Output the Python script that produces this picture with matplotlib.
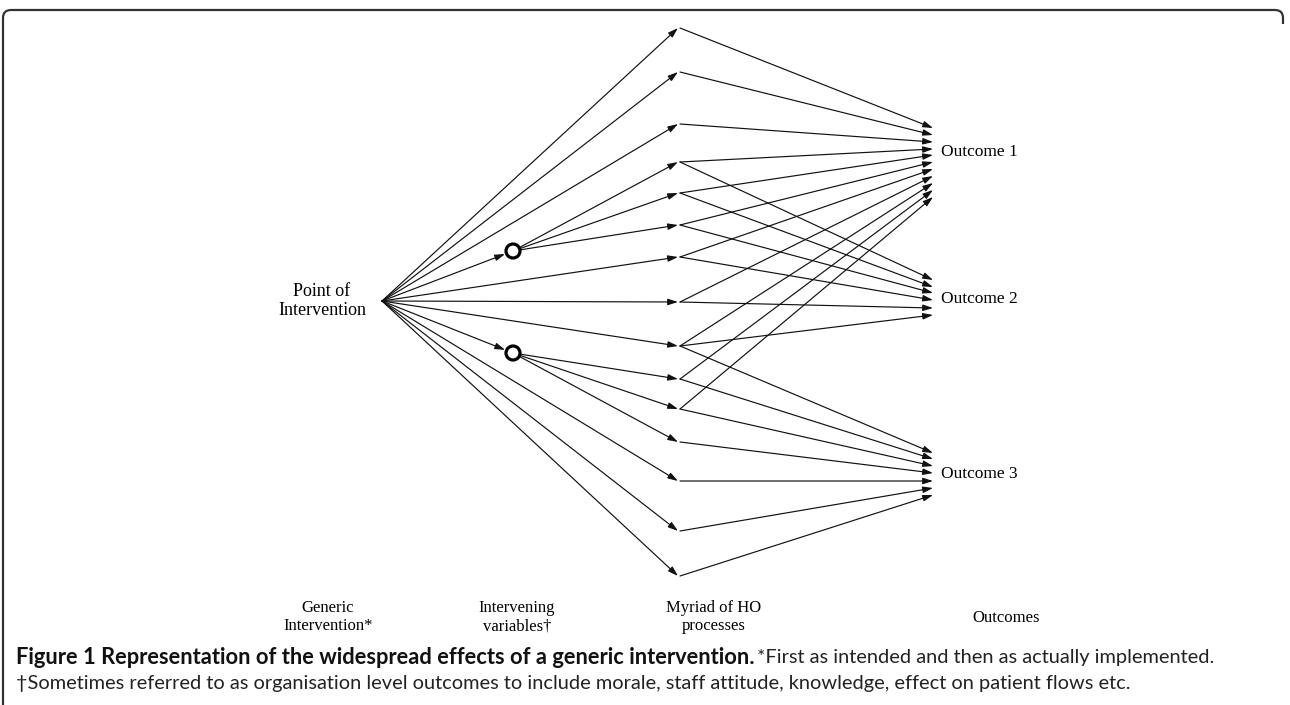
import matplotlib
matplotlib.use("Agg")
import matplotlib.pyplot as plt
from matplotlib.patches import Circle
from matplotlib.path import Path
from matplotlib.patches import PathPatch
import numpy as np

# ---------------- data (diagram layout) ----------------
source_xy = (382, 301)
node_x = 680
node_y = [28, 72, 124, 162, 193, 225, 257, 302, 346, 379, 409, 442, 481, 531, 576]
hub_xy = {"A": (513, 251), "B": (513, 353)}
# which feeder points into each middle node (S = point of intervention)
node_feeders = ["S", "S", "S", "A", "A", "A", "S", "S", "S",
                "B", "B", "B", "S", "S", "S"]
outcome_x = 933
outcome_labels = ["Outcome 1", "Outcome 2", "Outcome 3"]
outcome_label_y = [152, 299, 474]
outcome_nodes = [
    [0, 1, 2, 3, 4, 5, 6, 7, 8, 9, 10],
    [3, 4, 5, 6, 7, 8],
    [8, 9, 10, 11, 12, 13, 14],
]
outcome_tip_y = [
    [128, 135, 142, 149, 155, 162, 169, 176, 183, 190, 197],
    [280, 287, 293, 300, 308, 315],
    [453, 459, 466, 473, 481, 488, 495],
]
column_labels = ["Generic\nIntervention*", "Intervening\nvariables\u2020",
                 "Myriad of HO\nprocesses", "Outcomes"]
column_label_xy = [(328, 617), (517, 617), (714, 617), (1006, 618)]
caption_bold = "Figure 1 Representation of the widespread effects of a generic intervention."
caption_rest = "*First as intended and then as actually implemented."
caption_line2 = "\u2020Sometimes referred to as organisation level outcomes to include morale, staff attitude, knowledge, effect on patient flows etc."

# ---------------- figure ----------------
W, H = 1290, 705
fig = plt.figure(figsize=(W / 100, H / 100), dpi=100)
ax = fig.add_axes([0, 0, 1, 1])
ax.set_xlim(0, W)
ax.set_ylim(H, 0)
ax.axis("off")

LC = "#111111"
LW = 0.85
HUB_R = 7


def arrow(p0, p1):
    ax.annotate("", xy=p1, xytext=p0,
                arrowprops=dict(arrowstyle="-|>,head_length=0.6,head_width=0.19",
                                color=LC, lw=LW, shrinkA=0, shrinkB=0,
                                mutation_scale=10))


def toward(p, q, d):
    v = np.array(q, float) - np.array(p, float)
    v /= np.hypot(*v)
    return tuple(np.array(p, float) + v * d)


# source -> hubs
for c in hub_xy.values():
    arrow(source_xy, toward(c, source_xy, HUB_R + 1.5))

# feeders -> middle nodes
for y, f in zip(node_y, node_feeders):
    tip = (node_x - 2, y)
    if f == "S":
        arrow(source_xy, tip)
    else:
        c = hub_xy[f]
        arrow(toward(c, tip, HUB_R + 1), tip)

# middle nodes -> outcomes
for nodes, tips in zip(outcome_nodes, outcome_tip_y):
    for n, ty in zip(nodes, tips):
        arrow((node_x, node_y[n]), (outcome_x, ty))

# hubs
for c in hub_xy.values():
    ax.add_patch(Circle(c, HUB_R, facecolor="white", edgecolor="black",
                        lw=2.3, zorder=5))

serif = ["Liberation Serif", "DejaVu Serif"]
ax.text(322, 301, "Point of\nIntervention", ha="center", va="center",
        fontsize=13, family=serif, linespacing=1.15)
for lab, y in zip(outcome_labels, outcome_label_y):
    ax.text(941, y, lab, ha="left", va="center", fontsize=12.5, family=serif)
for lab, (x, y) in zip(column_labels, column_label_xy):
    ax.text(x, y, lab, ha="center", va="center", fontsize=12, family=serif,
            linespacing=1.25)

# ---------------- caption ----------------
sans = ["Lato", "DejaVu Sans"]
renderer = fig.canvas.get_renderer()


def width_px(t):
    bb = t.get_window_extent(renderer=renderer)
    return bb.x1 - bb.x0


def fit(t, target):
    s = t.get_fontsize() * target / width_px(t)
    t.set_fontsize(s)
    return s


CAP_Y1, CAP_Y2 = 658, 684
X0 = 16
BOLD_END = 752
t2 = ax.text(X0, CAP_Y2, caption_line2, ha="left", va="center", fontsize=12,
             family=sans, color="#222222")
s2 = fit(t2, 1115)
tb = ax.text(X0, CAP_Y1, caption_bold, ha="left", va="center", fontsize=12,
             family=sans, fontweight="bold", color="#111111")
fit(tb, BOLD_END - X0)
ax.text(BOLD_END + 5, CAP_Y1, caption_rest, ha="left", va="center",
        fontsize=s2, family=sans, color="#222222")

# frame (rounded top corners, open bottom)
r = 8
verts = [(3, H + 5), (3, 10 + r), (3, 10), (3 + r, 10), (1283 - r, 10),
         (1283, 10), (1283, 10 + r), (1283, 24)]
codes = [Path.MOVETO, Path.LINETO, Path.CURVE3, Path.CURVE3, Path.LINETO,
         Path.CURVE3, Path.CURVE3, Path.LINETO]
ax.add_patch(PathPatch(Path(verts, codes), facecolor="none", edgecolor="#333333",
                       lw=1.6))

fig.savefig("out.png", dpi=100)
